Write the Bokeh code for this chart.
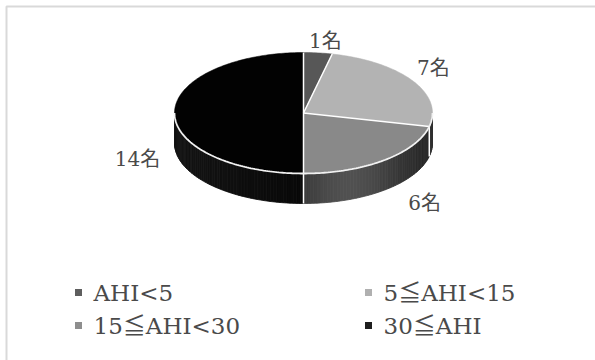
import math
from bokeh.plotting import figure
from bokeh.models import Range1d
from bokeh.core.properties import value
from bokeh.embed import file_html
from bokeh.resources import INLINE

# ---- data ----
categories = ["AHI<5", "5≦AHI<15", "15≦AHI<30", "30≦AHI"]
counts = [1, 7, 6, 14]
data_labels = [f"{c}名" for c in counts]
colors = ["#575757", "#b3b3b3", "#898989", "#020202"]
legend_colors = ["#5e5e5e", "#b0b0b0", "#8e8e8e", "#1e1e1e"]

# ---- layout ----
W, H = 595, 360
cx, cy, rx, ry, depth = 303, 112.5, 129, 60.5, 30
label_gap = 22
label_nudge = [(5, 10), (2, -1), (27, -5), (-15, 16)]
FONT = value("'DejaVu Serif', 'Noto Sans CJK JP'")
TXT = "#4a4a4a"

p = figure(width=W, height=H, x_range=Range1d(0, W), y_range=Range1d(H, 0),
           toolbar_location=None, output_backend="svg", min_border=0)
p.axis.visible = False
p.grid.visible = False
p.outline_line_color = None
p.background_fill_color = "white"
p.border_fill_color = "white"

# chart frame
p.line([6, 6, W + 5], [H + 5, 6, 6], line_color="#d9d9d9", line_width=2)


def pt(theta_deg, dy=0.0):
    t = math.radians(theta_deg)
    return cx + rx * math.sin(t), cy - ry * math.cos(t) + dy


total = sum(counts)
bounds = [0.0]
for c in counts:
    bounds.append(bounds[-1] + 360.0 * c / total)


def hexgray(v):
    v = int(max(0, min(255, round(v))))
    return "#%02x%02x%02x" % (v, v, v)


# ---- sides (front half only) ----
sx, sy, sc = [], [], []
for i, c in enumerate(counts):
    a0, a1 = max(bounds[i], 90.0), min(bounds[i + 1], 270.0)
    if a1 <= a0:
        continue
    base = int(colors[i][1:3], 16)
    n = max(2, int((a1 - a0) / 1.5))
    for k in range(n):
        t0 = a0 + (a1 - a0) * k / n
        t1 = a0 + (a1 - a0) * (k + 1) / n
        tm = (t0 + t1) / 2
        s = math.sin(math.radians(tm))
        light = 8 + base * (0.18 + 0.35 * math.exp(-((s - 0.35) / 0.45) ** 2)) + 12 * max(0.0, -s)
        x0, y0 = pt(t0)
        x1, y1 = pt(t1)
        sx.append([x0, x1, x1, x0])
        sy.append([y0, y1, y1 + depth, y0 + depth])
        sc.append(hexgray(light))
p.patches(sx, sy, fill_color=sc, line_color=sc, line_width=0.8)

# side seams
for b in bounds[1:-1]:
    if 90 <= b <= 270:
        x0, y0 = pt(b)
        p.line([x0, x0], [y0, y0 + depth], line_color="white", line_width=1.5)

# ---- top slices ----
tx, ty = [], []
for i in range(len(counts)):
    a0, a1 = bounds[i], bounds[i + 1]
    n = max(4, int((a1 - a0) / 1.0))
    xs, ys = [cx], [cy]
    for k in range(n + 1):
        x, y = pt(a0 + (a1 - a0) * k / n)
        xs.append(x)
        ys.append(y)
    tx.append(xs)
    ty.append(ys)
p.patches(tx, ty, fill_color=colors, line_color=colors, line_width=0.5)

# radial separators
for b in bounds[:-1]:
    x, y = pt(b)
    p.line([cx, x], [cy, y], line_color="white", line_width=1.5)

# rim
rim = [pt(90 + k) for k in range(181)]
p.line([q[0] for q in rim], [q[1] for q in rim], line_color="#f2f2f2", line_width=1.8)

# ---- data labels ----
lx, ly = [], []
for i in range(len(counts)):
    m = (bounds[i] + bounds[i + 1]) / 2
    t = math.radians(m)
    x = cx + (rx + label_gap) * math.sin(t)
    y = cy - (ry + label_gap) * math.cos(t)
    if -math.cos(t) > 0:
        y += depth
    lx.append(x + label_nudge[i][0])
    ly.append(y + label_nudge[i][1])
p.text(lx, ly, text=data_labels, text_font=FONT, text_font_size="20px",
       text_color=TXT, text_align="center", text_baseline="middle")

# ---- legend ----
col_x = [78, 368]
row_y = [292, 325]
gx, gy = [], []
for i in range(len(categories)):
    gx.append(col_x[i % 2])
    gy.append(row_y[i // 2])
p.scatter(gx, gy, marker="square", size=7, fill_color=legend_colors, line_color=None)
p.text([x + 15 for x in gx], gy, text=categories, text_font=FONT, text_font_size="23px",
       text_color=TXT, text_align="left", text_baseline="middle")

open("out.html", "w").write(file_html(p, INLINE))
